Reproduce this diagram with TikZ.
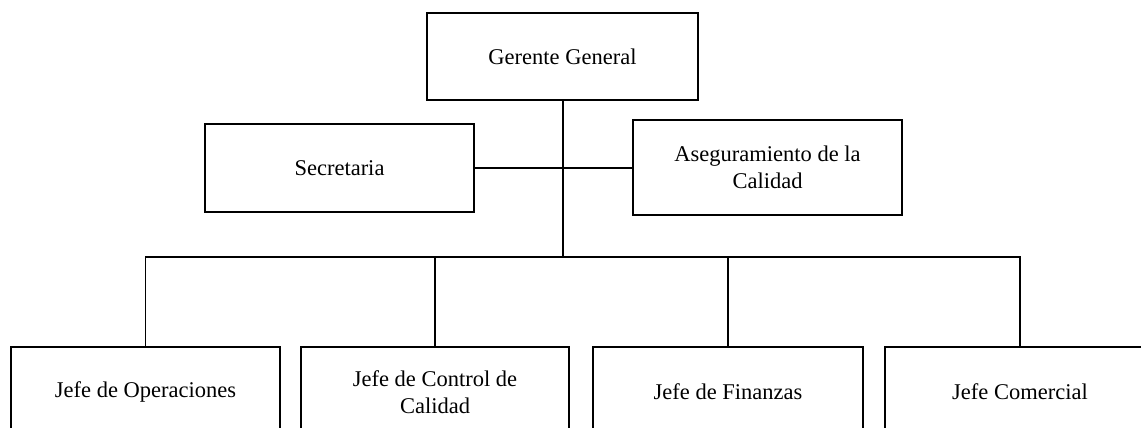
\documentclass[tikz,border=0pt]{standalone}
\usepackage{fontspec}
\setmainfont{Liberation Serif}
\begin{document}
\begin{tikzpicture}[x=1pt,y=-1pt,
  orgbox/.style={draw=black,line width=1.3pt,rectangle,inner sep=0pt,align=center,
    font=\fontsize{22.5}{27}\selectfont},
  link/.style={draw=black,line width=1.1pt}]
\useasboundingbox (0,0) rectangle (1141,428);
\clip (0,0) rectangle (1141,428);
\node[orgbox,minimum width=271pt,minimum height=87pt] (gg) at (562.5,56.5) {Gerente General};
\node[orgbox,minimum width=269pt,minimum height=88pt] (sec) at (339.5,168) {Secretaria};
\node[orgbox,minimum width=269pt,minimum height=95pt] (aseg) at (767.5,167.5) {Aseguramiento de la\\Calidad};
\node[orgbox,minimum width=269pt,minimum height=90pt] (op) at (145.5,392) {Jefe de Operaciones};
\node[orgbox,minimum width=268pt,minimum height=90pt] (ctrl) at (435,392) {Jefe de Control de\\Calidad};
\node[orgbox,minimum width=270pt,minimum height=90pt] (fin) at (728,392) {Jefe de Finanzas};
\node[orgbox,minimum width=270pt,minimum height=90pt] (com) at (1020,392) {Jefe Comercial};
\coordinate (jct) at (563,257);
\draw[link] (gg.south -| jct) -- (jct);
\draw[link] (sec.east) -- (sec.east -| aseg.west);
\draw[link] (op.north) |- (jct);
\draw[link] (com.north) |- (jct);
\draw[link] (ctrl.north) -- (ctrl.north |- jct);
\draw[link] (fin.north) -- (fin.north |- jct);
\end{tikzpicture}
\end{document}
